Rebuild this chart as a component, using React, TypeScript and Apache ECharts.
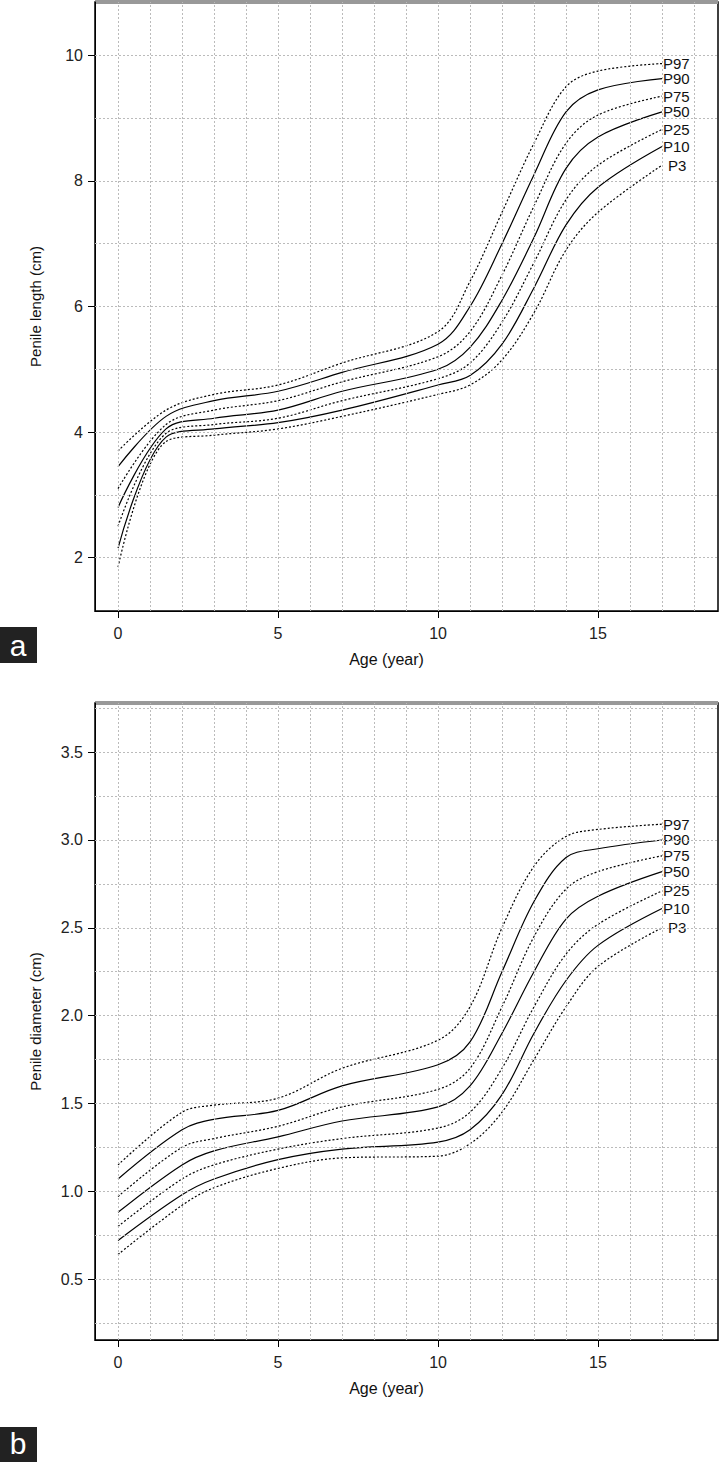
import React, { useEffect, useRef } from "react";
import * as echarts from "echarts";

const names = ["P97", "P90", "P75", "P50", "P25", "P10", "P3"];
const dashed = [true, false, true, false, true, false, true];

const agesA = [0, 1.5, 3, 5, 7, 10, 11, 12, 13, 14, 15, 17];
const lenP97 = [3.7, 4.35, 4.6, 4.75, 5.1, 5.6, 6.4, 7.5, 8.6, 9.5, 9.75, 9.87];
const lenP90 = [3.45, 4.25, 4.5, 4.65, 4.95, 5.4, 6.0, 7.0, 8.1, 9.1, 9.45, 9.63];
const lenP75 = [3.1, 4.12, 4.35, 4.5, 4.8, 5.2, 5.6, 6.5, 7.6, 8.6, 9.05, 9.35];
const lenP50 = [2.8, 4.05, 4.22, 4.35, 4.65, 5.0, 5.35, 6.1, 7.1, 8.2, 8.7, 9.1];
const lenP25 = [2.5, 3.98, 4.12, 4.22, 4.5, 4.85, 5.1, 5.75, 6.7, 7.7, 8.25, 8.82];
const lenP10 = [2.15, 3.92, 4.05, 4.15, 4.35, 4.75, 4.9, 5.4, 6.3, 7.3, 7.9, 8.55];
const lenP3 = [1.85, 3.85, 3.95, 4.05, 4.25, 4.6, 4.75, 5.15, 5.9, 6.9, 7.5, 8.25];

const agesB = [0, 2, 3, 5, 7, 10, 11, 12, 13, 14, 15, 17];
const diaP97 = [1.15, 1.45, 1.49, 1.53, 1.7, 1.86, 2.05, 2.5, 2.85, 3.02, 3.06, 3.09];
const diaP90 = [1.07, 1.35, 1.41, 1.46, 1.6, 1.72, 1.85, 2.25, 2.65, 2.9, 2.95, 3.0];
const diaP75 = [0.97, 1.25, 1.3, 1.37, 1.48, 1.58, 1.7, 2.05, 2.45, 2.72, 2.82, 2.91];
const diaP50 = [0.88, 1.15, 1.23, 1.31, 1.4, 1.48, 1.6, 1.9, 2.25, 2.55, 2.68, 2.82];
const diaP25 = [0.8, 1.07, 1.15, 1.24, 1.3, 1.36, 1.45, 1.7, 2.05, 2.35, 2.52, 2.71];
const diaP10 = [0.72, 0.98, 1.07, 1.18, 1.24, 1.28, 1.35, 1.55, 1.9, 2.2, 2.4, 2.61];
const diaP3 = [0.64, 0.92, 1.02, 1.13, 1.19, 1.2, 1.27, 1.45, 1.75, 2.05, 2.28, 2.5];

const xTicks = [0, 5, 10, 15];
const xGrid = [0, 1, 2, 3, 4, 5, 6, 7, 8, 9, 10, 11, 12, 13, 14, 15, 16, 17, 18];
const yTicksA = [2, 4, 6, 8, 10];
const yGridA = [2, 3, 4, 5, 6, 7, 8, 9, 10];
const yTicksB = [0.5, 1.0, 1.5, 2.0, 2.5, 3.0, 3.5];
const yGridB = [0.25, 0.5, 0.75, 1, 1.25, 1.5, 1.75, 2, 2.25, 2.5, 2.75, 3, 3.25, 3.5, 3.75];

const lenData = [lenP97, lenP90, lenP75, lenP50, lenP25, lenP10, lenP3];
const diaData = [diaP97, diaP90, diaP75, diaP50, diaP25, diaP10, diaP3];

const FONT = "Liberation Sans";
const gridLine = { color: "#bbb", type: [2, 2] as any, width: 1 };

export default function App() {
  const ref = useRef<HTMLDivElement>(null);
  useEffect(() => {
    const chart = echarts.init(ref.current!, null, { renderer: "svg" });
    const mkX = (gi: number) => ({
      type: "value", gridIndex: gi, min: -0.72, max: 18.75,
      name: "Age (year)", nameLocation: "middle", nameGap: 40,
      nameTextStyle: { fontFamily: FONT, fontSize: 16, color: "#111", padding: [0, 40, 0, 0] },
      axisLine: { show: true, onZero: false, lineStyle: { color: "#000" } },
      axisTick: { show: true, inside: false, length: 7, customValues: xTicks, lineStyle: { color: "#000" } },
      axisLabel: { customValues: xTicks, fontFamily: FONT, fontSize: 16, color: "#222", margin: 14 },
      splitLine: { show: false },
    });
    const mkY = (gi: number, min: number, max: number, ticks: number[], name: string, fmt: (v: number) => string) => ({
      type: "value", gridIndex: gi, min, max, name, nameLocation: "middle", nameGap: 52,
      nameTextStyle: { fontFamily: FONT, fontSize: 15, color: "#111" },
      axisLine: { show: true, onZero: false, lineStyle: { color: "#000" } },
      axisTick: { show: true, length: 7, customValues: ticks, lineStyle: { color: "#000" } },
      axisLabel: { customValues: ticks, fontFamily: FONT, fontSize: 16, color: "#222", margin: 12, formatter: fmt },
      splitLine: { show: false },
    });
    const gridSeries = (gi: number, ys: number[]) => ({
      type: "line", xAxisIndex: gi, yAxisIndex: gi, data: [], silent: true,
      markLine: {
        silent: true, symbol: "none", label: { show: false },
        lineStyle: gridLine,
        data: [...xGrid.map((x) => ({ xAxis: x })), ...ys.map((y) => ({ yAxis: y }))],
      },
    });
    const curves = (gi: number, ages: number[], data: number[][]) =>
      data.map((vals, i) => ({
        type: "line", name: names[i], xAxisIndex: gi, yAxisIndex: gi,
        data: ages.map((a, j) => [a, vals[j]]),
        smooth: 0.35, showSymbol: false, symbol: "none",
        lineStyle: { color: "#000", width: 1.2, type: dashed[i] ? [2, 2] : "solid" },
        endLabel: {
          show: true, formatter: names[i], fontFamily: FONT, fontSize: 15, lineHeight: 14, color: "#111",
          distance: i === 6 ? 6 : 1,
        },
      }));
    const boxes = [
      { y: 2, h: 609 },
      { y: 703, h: 637 },
    ];
    chart.setOption({
      animation: false,
      backgroundColor: "#fff",
      grid: [
        { left: 95, width: 623, top: 2, height: 609 },
        { left: 95, width: 623, top: 703, height: 637 },
      ],
      xAxis: [mkX(0), mkX(1)],
      yAxis: [
        mkY(0, 1.15, 10.85, yTicksA, "Penile length (cm)", (v) => String(v)),
        mkY(1, 0.153, 3.78, yTicksB, "Penile diameter (cm)", (v) => v.toFixed(1)),
      ],
      series: [
        gridSeries(0, yGridA), gridSeries(1, yGridB),
        ...curves(0, agesA, lenData), ...curves(1, agesB, diaData),
      ],
      graphic: [
        ...boxes.flatMap((b) => [
          { type: "rect", shape: { x: 95, y: b.y, width: 623, height: b.h }, style: { fill: "none", stroke: "#000", lineWidth: 1.5 }, silent: true },
          { type: "line", shape: { x1: 95, y1: b.y, x2: 718, y2: b.y }, style: { stroke: "#999", lineWidth: 4 }, silent: true },
        ]),
        { type: "rect", shape: { x: 0, y: 627, width: 37, height: 36 }, style: { fill: "#222" } },
        { type: "text", x: 18, y: 645, style: { text: "a", fontFamily: FONT, fontSize: 30, fill: "#fff", align: "center", verticalAlign: "middle" } },
        { type: "rect", shape: { x: 0, y: 1427, width: 37, height: 35 }, style: { fill: "#222" } },
        { type: "text", x: 18, y: 1443, style: { text: "b", fontFamily: FONT, fontSize: 30, fill: "#fff", align: "center", verticalAlign: "middle" } },
      ],
    });
    return () => chart.dispose();
  }, []);
  return <div ref={ref} style={{ position: "absolute", left: 0, top: 0, width: 720, height: 1462 }} />;
}
